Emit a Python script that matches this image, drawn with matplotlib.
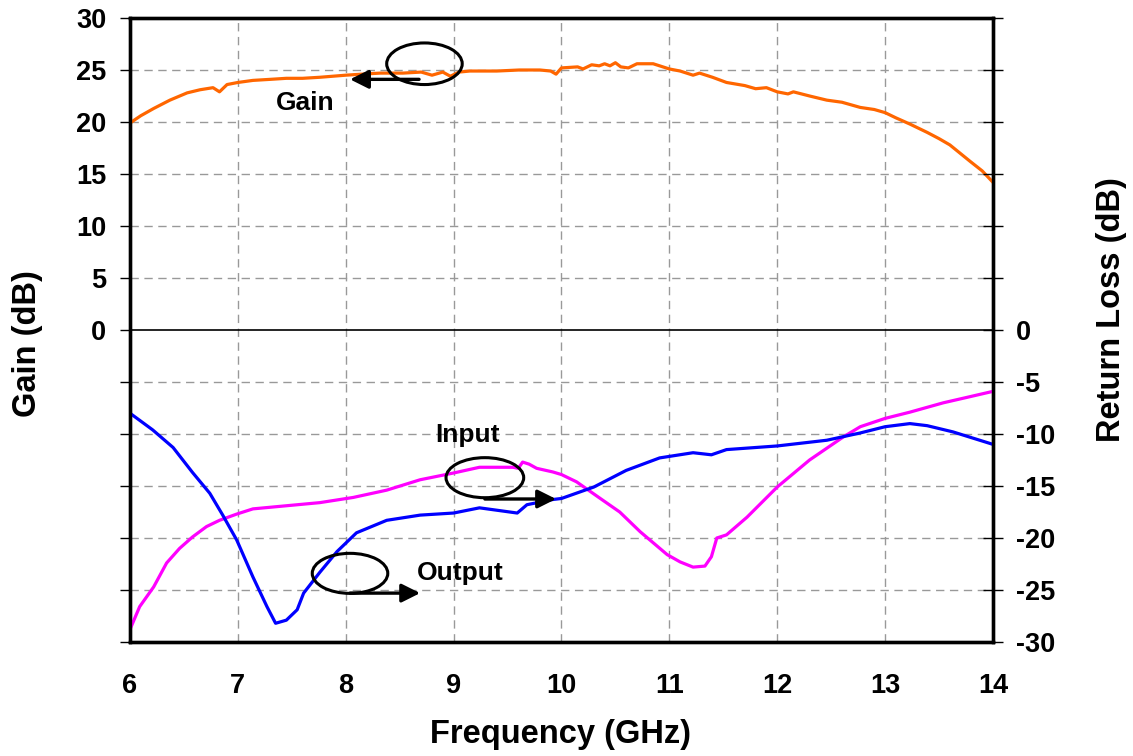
import matplotlib
matplotlib.use("Agg")
import matplotlib.pyplot as plt
from matplotlib.patches import Ellipse, FancyArrowPatch

plt.rcParams['font.family'] = ['Liberation Sans', 'DejaVu Sans']
plt.rcParams['font.weight'] = 'bold'

# ---- data ----
gain_freq = [6.0, 6.1, 6.22, 6.37, 6.53, 6.65, 6.77, 6.83, 6.9, 7.0, 7.14, 7.3, 7.45, 7.6,
             7.76, 8.0, 8.15, 8.32, 8.53, 8.7, 8.8, 8.9, 8.97, 9.05, 9.15, 9.4, 9.61, 9.8,
             9.9, 9.95, 10.0, 10.15, 10.2, 10.28, 10.35, 10.4, 10.45, 10.5, 10.55, 10.62,
             10.7, 10.85, 11.0, 11.1, 11.22, 11.28, 11.4, 11.53, 11.7, 11.8, 11.9, 12.0,
             12.1, 12.15, 12.3, 12.46, 12.6, 12.77, 12.9, 13.0, 13.1, 13.23, 13.39, 13.5,
             13.6, 13.79, 13.9, 14.0]
gain_db = [19.9, 20.6, 21.3, 22.1, 22.8, 23.1, 23.3, 22.9, 23.6, 23.8, 24.0, 24.1, 24.2, 24.2,
           24.3, 24.5, 24.6, 24.7, 24.7, 24.8, 24.5, 24.8, 24.4, 24.8, 24.9, 24.9, 25.0, 25.0,
           24.9, 24.6, 25.2, 25.3, 25.1, 25.5, 25.4, 25.6, 25.4, 25.7, 25.3, 25.2,
           25.6, 25.6, 25.1, 24.9, 24.5, 24.7, 24.3, 23.8, 23.5, 23.2, 23.3, 22.9,
           22.7, 22.9, 22.5, 22.1, 21.9, 21.4, 21.2, 20.9, 20.4, 19.8, 19.0, 18.4,
           17.8, 16.2, 15.3, 14.2]

input_freq = [6.0, 6.09, 6.22, 6.34, 6.46, 6.58, 6.71, 6.83, 6.99, 7.14, 7.45, 7.76, 8.07,
              8.38, 8.69, 9.0, 9.24, 9.55, 9.6, 9.64, 9.7, 9.77, 9.92, 10.0, 10.14, 10.36,
              10.54, 10.73, 10.98, 11.1, 11.22, 11.33, 11.39, 11.44, 11.53, 11.72, 12.0,
              12.3, 12.61, 12.77, 13.0, 13.23, 13.54, 13.75, 14.0]
input_rl = [-28.8, -26.6, -24.7, -22.4, -21.0, -19.9, -18.9, -18.3, -17.7, -17.2, -16.9, -16.6,
            -16.1, -15.4, -14.4, -13.75, -13.2, -13.2, -13.3, -12.7, -12.9, -13.3, -13.65,
            -13.9, -14.6, -16.2, -17.5, -19.4, -21.6, -22.3, -22.8, -22.7, -21.8, -20.0,
            -19.7, -18.0, -15.1, -12.5, -10.3, -9.3, -8.5, -7.9, -7.0, -6.5, -5.9]

output_freq = [6.0, 6.21, 6.4, 6.58, 6.74, 6.86, 6.99, 7.14, 7.27, 7.35, 7.45, 7.55, 7.61,
               7.76, 7.92, 8.1, 8.38, 8.69, 9.0, 9.24, 9.59, 9.68, 9.92, 10.0, 10.3, 10.6,
               10.91, 11.22, 11.39, 11.53, 12.0, 12.46, 12.77, 13.0, 13.23, 13.39, 13.63,
               13.97, 14.0]
output_rl = [-8.0, -9.6, -11.3, -13.7, -15.7, -17.8, -20.2, -23.75, -26.6, -28.2, -27.9, -26.9,
             -25.3, -23.3, -21.3, -19.5, -18.3, -17.8, -17.6, -17.1, -17.6, -16.8, -16.3,
             -16.2, -15.1, -13.5, -12.3, -11.8, -12.0, -11.5, -11.15, -10.6, -9.9, -9.3,
             -9.0, -9.2, -9.8, -10.9, -11.0]

freq_ticks = [6, 7, 8, 9, 10, 11, 12, 13, 14]
gain_ticks = [0, 5, 10, 15, 20, 25, 30]
rl_ticks = [-30, -25, -20, -15, -10, -5, 0]

# ---- figure ----
fig = plt.figure(figsize=(11.33, 7.56), dpi=100)
ax = fig.add_axes([0.1147, 0.1508, 0.7617, 0.8254])
ax.set_xlim(6, 14)
ax.set_ylim(-30, 30)

grid_kw = dict(color='#999999', lw=1.0, ls=(0, (6, 4)), zorder=1)
for f in freq_ticks[1:-1]:
    ax.axvline(f, **grid_kw)
for g in range(-25, 30, 5):
    if g != 0:
        ax.axhline(g, **grid_kw)
ax.axhline(0, color='black', lw=1.2, zorder=2)

ax.plot(gain_freq, gain_db, color='#FF6600', lw=2.3, zorder=3)
ax.plot(input_freq, input_rl, color='#FF00FF', lw=2.3, zorder=3)
ax.plot(output_freq, output_rl, color='#0000FF', lw=2.3, zorder=3)

for s in ax.spines.values():
    s.set_linewidth(2.4)

ax.set_xticks(freq_ticks)
ax.set_xticklabels([str(f) for f in freq_ticks])
ax.tick_params(axis='x', length=0, pad=22, labelsize=19.5)
ax.set_yticks(list(range(-30, 31, 5)))
ax.set_yticklabels([str(v) if v >= 0 else '' for v in range(-30, 31, 5)])
ax.tick_params(axis='y', direction='out', length=7, width=1, pad=10, labelsize=19.5)

ax2 = ax.twinx()
ax2.set_ylim(-30, 30)
ax2.set_yticks(list(range(-30, 31, 5)))
ax2.set_yticklabels([str(v) if v <= 0 else '' for v in range(-30, 31, 5)])
ax2.tick_params(axis='y', direction='inout', length=15, width=1, pad=9, labelsize=19.5)
for s in ax2.spines.values():
    s.set_linewidth(2.4)

fig.text(0.024, 0.546, 'Gain (dB)', rotation=90, ha='center', va='center',
         fontsize=23.5, fontweight='bold')
fig.text(0.981, 0.59, 'Return Loss (dB)', rotation=90, ha='center', va='center',
         fontsize=23.5, fontweight='bold')
fig.text(0.495, 0.028, 'Frequency (GHz)', ha='center', va='center',
         fontsize=23.5, fontweight='bold')

# ---- annotations ----
def annot(cx, cy, w, h, x0, x1, ya, label, lx, ly):
    ax.add_patch(Ellipse((cx, cy), w, h, fill=False, ec='black', lw=2.2, zorder=4))
    ax.add_patch(FancyArrowPatch((x0, ya), (x1, ya), arrowstyle='-|>',
                                 mutation_scale=28, color='black', lw=2.4,
                                 shrinkA=0, shrinkB=0, zorder=4))
    ax.text(lx, ly, label, ha='center', va='center', fontsize=19, fontweight='bold', zorder=5)

annot(8.73, 25.6, 0.70, 4.0, 8.68, 8.04, 24.1, 'Gain', 7.62, 21.8)
annot(9.29, -14.2, 0.72, 3.85, 9.29, 9.95, -16.25, 'Input', 9.13, -10.1)
annot(8.04, -23.4, 0.70, 3.85, 8.04, 8.69, -25.3, 'Output', 9.06, -23.4)

fig.savefig('out.png', dpi=100)
